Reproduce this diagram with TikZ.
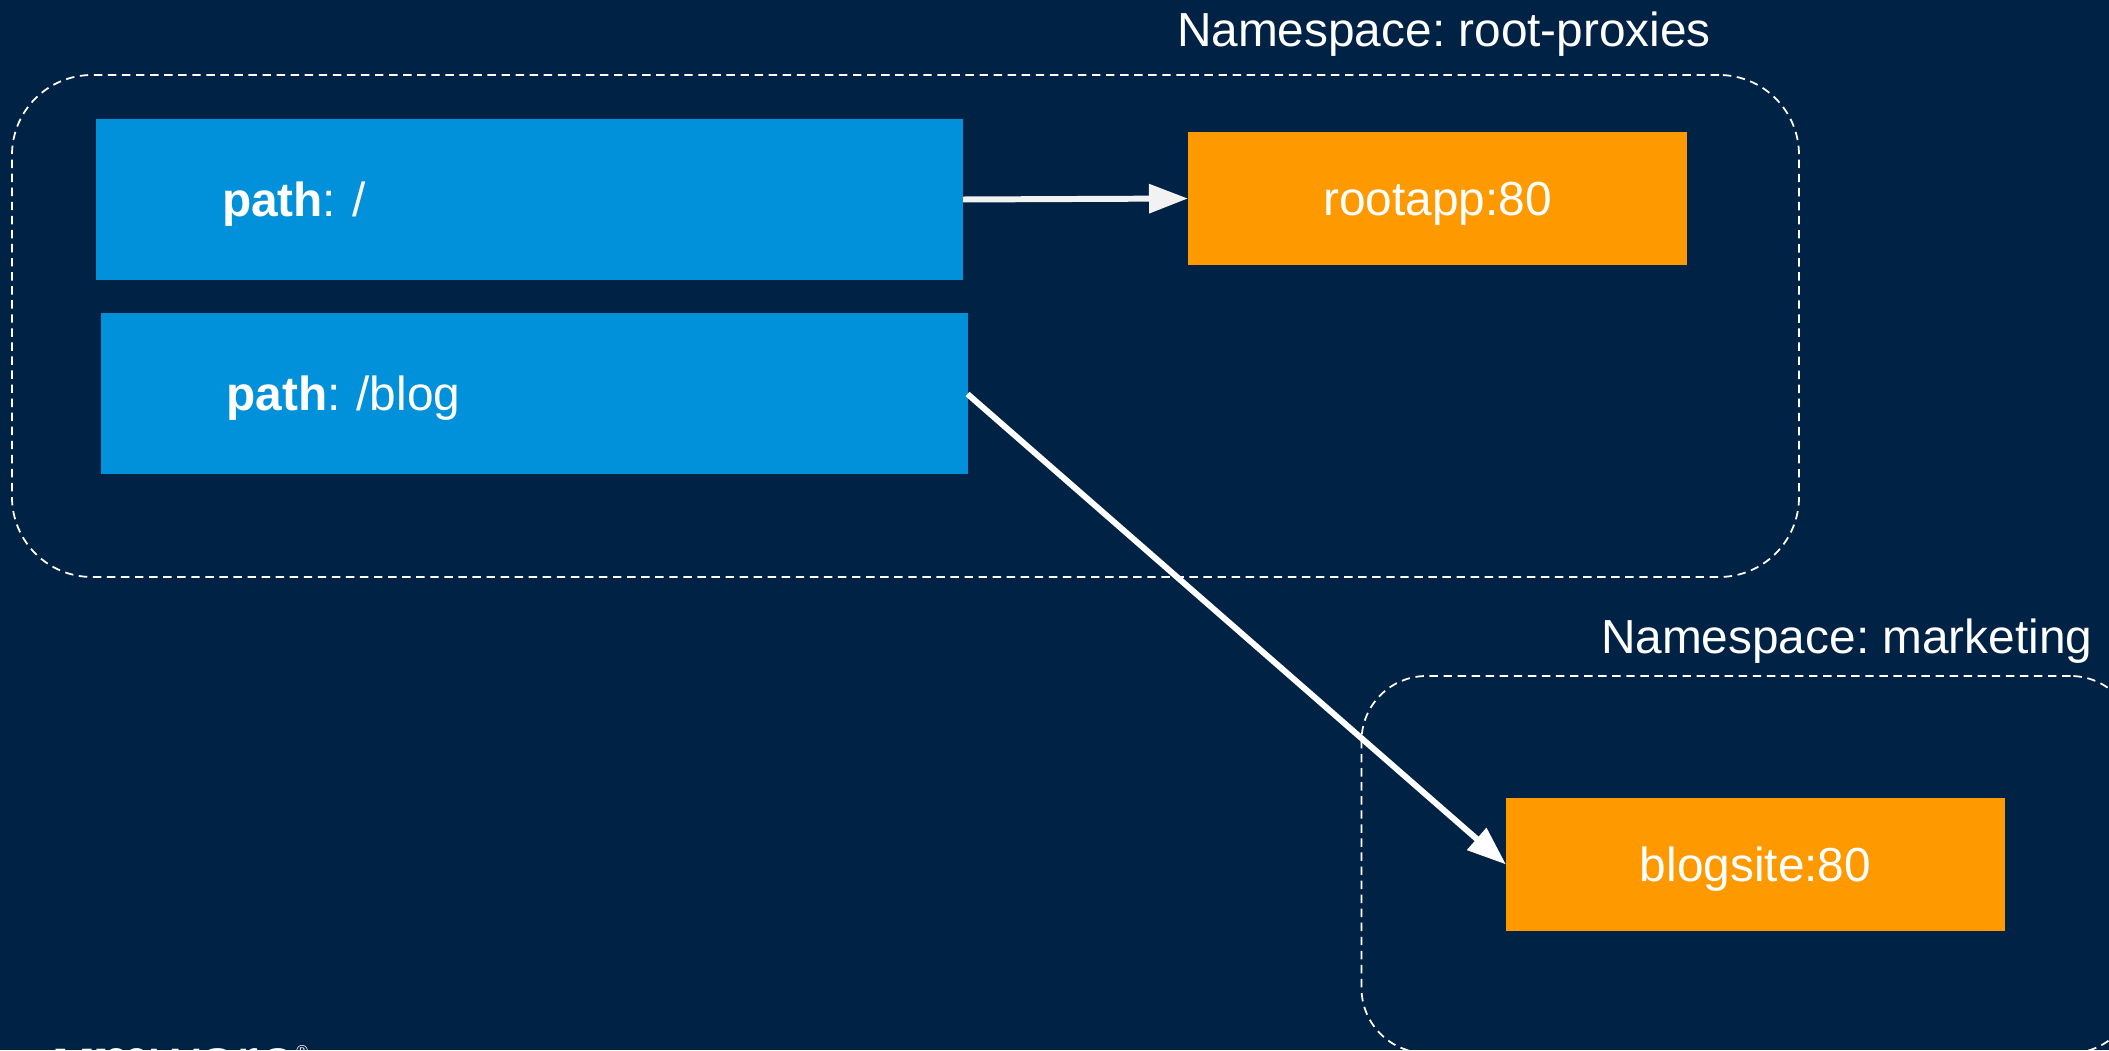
\documentclass[tikz,border=0pt]{standalone}
\usepackage{fontspec}
\setmainfont{Liberation Sans}
\usetikzlibrary{arrows.meta}
\frenchspacing
\definecolor{bgnavy}{HTML}{002244}
\definecolor{pathblue}{HTML}{0091DA}
\definecolor{svcorange}{HTML}{FF9900}
\definecolor{arrowgrey}{HTML}{F2F2F2}
\tikzset{
	every node/.style={outer sep=0pt, inner sep=0pt, text=white, font=\fontsize{13.6pt}{16pt}\selectfont},
	nsbox/.style={draw=white, line width=0.5pt, dash pattern=on 2.4pt off 1.6pt},
	pathbox/.style={fill=pathblue, minimum height=1.61cm, inner xsep=1.26cm, text width=6.15cm, align=left, text height=9.6pt, text depth=0pt},
	svcbox/.style={fill=svcorange, minimum width=4.99cm, minimum height=1.33cm, text height=9.6pt, text depth=0pt},
	flow/.style={line width=1.7pt, -{Triangle[length=11.1pt, width=8pt]}},
}
\begin{document}
\begin{tikzpicture}
	\fill[bgnavy] (0.00,0.00) rectangle (21.09,10.50);
	\useasboundingbox (0.00,0.00) rectangle (21.09,10.50);
	\clip (0.00,0.00) rectangle (21.09,10.50);
	\node[nsbox, rounded corners=0.80cm, minimum width=17.87cm, minimum height=5.02cm] (rootns) at (9.055,7.24) {};
	\node[nsbox, rounded corners=0.65cm, minimum width=7.74cm, minimum height=3.77cm] (marketingns) at (17.485,1.855) {};
	\node[anchor=base west] (rootnslabel) at (11.77,10.03) {Namespace: root-proxies};
	\node[anchor=base west] (marketingnslabel) at (16.01,3.96) {Namespace: marketing};
	\node[pathbox] (rootpath) at (5.295,8.505) {\textbf{path}: /};
	\node[pathbox] (blogpath) at (5.34,6.56) {\textbf{path}: /blog};
	\node[svcbox] (rootapp) at (14.375,8.515) {rootapp:80};
	\node[svcbox] (blogsite) at (17.555,1.855) {blogsite:80};
	\draw[flow, draw=arrowgrey] (rootpath.east) -- (rootapp.west);
	\draw[flow, draw=white] (blogpath.east) -- (blogsite.west);
	\node[anchor=base west, font=\fontsize{19pt}{20pt}\selectfont] (logo) at (0.55,-0.34) {\textbf{vm}ware\raisebox{7.8pt}{\fontsize{4.5pt}{5pt}\selectfont ®}};
\end{tikzpicture}
\end{document}
